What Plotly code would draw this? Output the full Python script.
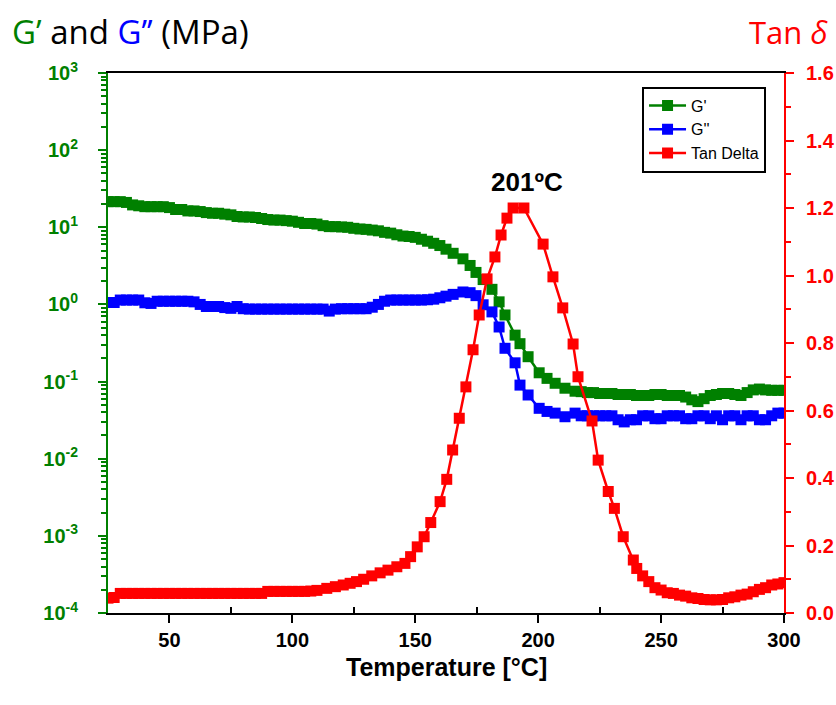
import plotly.graph_objects as go

# ---------------- data ----------------
g_temp = [25, 27.5, 30, 32.5, 35, 37.5, 40, 42.5, 45, 47.5,
          50, 52.5, 55, 57.5, 60, 62.5, 65, 67.5, 70, 72.5,
          75, 77.5, 80, 82.5, 85, 87.5, 90, 92.5, 95, 97.5,
          100, 102.5, 105, 107.5, 110, 112.5, 115, 117.5, 120, 122.5,
          125, 127.5, 130, 132.5, 135, 137.5, 140, 142.5, 145, 147.5,
          150, 152.5, 155, 157.5, 160, 162.5,
          165.4, 169.4, 172.3, 174.7, 177.6, 181.2, 184.1, 186.5, 190.6, 192.6,
          195.9, 200.4, 203.6, 206.9, 210.9, 215,
          217.5, 220, 222.5, 225, 227.5, 230, 232.5, 235, 237.5, 240,
          242.5, 245, 247.5, 250, 252.5, 255, 257.5, 260, 262.5, 265,
          267.5, 270, 272.5, 275, 277.5, 280, 282.5, 285, 287.5, 290,
          292.5, 295, 297.5, 300]

g_storage = [21.5, 21.5, 21.5, 21, 19.5, 19, 18.5, 18.5, 18.5, 18.5,
             18, 17, 17, 16.3, 16.3, 16, 15.5, 15.2, 15.2, 14.8,
             14.5, 13.8, 13.6, 13.6, 13.4, 13, 12.6, 12.4, 12.4, 12.2,
             12, 11.6, 11.2, 11.2, 11, 10.5, 10.2, 10.2, 10.1, 10,
             9.7, 9.5, 9.4, 9.2, 9, 8.6, 8.4, 8, 7.7, 7.6,
             7.4, 7, 6.6, 6.2, 5.8, 5.2,
             4.6, 3.9, 3.2, 2.6, 2.1, 1.57, 1.08, 0.73, 0.40, 0.31,
             0.21, 0.13, 0.11, 0.095, 0.082, 0.075,
             0.074, 0.072, 0.072, 0.07, 0.07, 0.07, 0.068, 0.068, 0.068, 0.066,
             0.066, 0.066, 0.068, 0.068, 0.066, 0.066, 0.066, 0.063, 0.058, 0.055,
             0.06, 0.066, 0.068, 0.07, 0.07, 0.068, 0.066, 0.072, 0.078, 0.08,
             0.078, 0.077, 0.077, 0.077]

g_loss = [1.06, 1.06, 1.14, 1.14, 1.14, 1.14, 1.05, 1.03, 1.1, 1.1,
          1.1, 1.1, 1.1, 1.1, 1.08, 1.0, 0.94, 0.94, 0.94, 0.91,
          0.89, 0.94, 0.88, 0.87, 0.87, 0.87, 0.87, 0.87, 0.87, 0.87,
          0.87, 0.87, 0.87, 0.87, 0.87, 0.87, 0.82, 0.87, 0.88, 0.88,
          0.88, 0.88, 0.88, 0.92, 1.0, 1.1, 1.14, 1.14, 1.14, 1.14,
          1.14, 1.14, 1.15, 1.17, 1.22, 1.28,
          1.35, 1.45, 1.42, 1.3, 0.99, 0.8, 0.51, 0.27, 0.175, 0.09,
          0.067, 0.045, 0.041, 0.039, 0.035, 0.039,
          0.036, 0.036, 0.036, 0.036, 0.036, 0.036, 0.032, 0.03, 0.032, 0.032,
          0.036, 0.036, 0.033, 0.033, 0.036, 0.036, 0.036, 0.033, 0.033, 0.036,
          0.036, 0.033, 0.036, 0.032, 0.036, 0.036, 0.032, 0.036, 0.036, 0.032,
          0.032, 0.036, 0.039, 0.039]

tan_temp = [25, 27.5, 30, 32.5, 35, 37.5, 40, 42.5, 45, 47.5,
            50, 52.5, 55, 57.5, 60, 62.5, 65, 67.5, 70, 72.5,
            75, 77.5, 80, 82.5, 85, 87.5, 90, 92.5, 95, 97.5,
            100, 102.5, 105, 107.5, 110, 114, 117.5, 120.7, 123.5, 126.1,
            129, 132.3, 135.7, 138.9, 142.5, 145.8, 148.1, 150.8, 153.6, 156.3,
            160.1, 162.8, 165.2, 167.9, 170.6, 173.5, 176, 179.2, 182.4, 184.9,
            187.3, 189.8, 194.2, 202, 206, 210, 214.2, 216.2, 221.9, 224.4,
            228.5, 231, 234.6, 238.7, 240.1, 242.5, 245, 247.5, 250, 252.5,
            255, 257.5, 260, 262.5, 265, 267.5, 270, 272.5, 275, 277.5,
            280, 282.5, 285, 287.5, 290, 292.5, 295, 297.5, 300]

tan_delta = [0.044, 0.046, 0.058, 0.058, 0.058, 0.058, 0.058, 0.058, 0.058, 0.058,
             0.058, 0.058, 0.058, 0.058, 0.058, 0.058, 0.058, 0.058, 0.058, 0.058,
             0.058, 0.058, 0.058, 0.058, 0.058, 0.058, 0.064, 0.064, 0.064, 0.064,
             0.064, 0.064, 0.064, 0.065, 0.067, 0.073, 0.078, 0.083, 0.088, 0.093,
             0.1, 0.11, 0.119, 0.127, 0.137, 0.147, 0.167, 0.196, 0.226, 0.268,
             0.33, 0.396, 0.483, 0.577, 0.67, 0.78, 0.883, 0.99, 1.055, 1.12,
             1.17, 1.2, 1.2, 1.093, 0.996, 0.904, 0.797, 0.70, 0.569, 0.453,
             0.36, 0.31, 0.226, 0.157, 0.132, 0.11, 0.093, 0.075, 0.068, 0.06,
             0.058, 0.053, 0.05, 0.045, 0.043, 0.04, 0.039, 0.039, 0.04, 0.045,
             0.048, 0.053, 0.056, 0.063, 0.07, 0.075, 0.083, 0.086, 0.09]

x_ticks = [50, 100, 150, 200, 250, 300]
x_minor_ticks = [75, 125, 175, 225, 275]
log_ticks = [1e-4, 1e-3, 1e-2, 1e-1, 1e0, 1e1, 1e2, 1e3]
log_tick_text = ["10<sup>-4</sup>", "10<sup>-3</sup>", "10<sup>-2</sup>", "10<sup>-1</sup>",
                 "10<sup>0</sup>", "10<sup>1</sup>", "10<sup>2</sup>", "10<sup>3</sup>"]
log_minor = [k * 10.0 ** e for e in range(-4, 3) for k in range(2, 10)]

GREEN = "#008000"
BLUE = "#0000FF"
RED = "#FF0000"

fig = go.Figure()
fig.add_trace(go.Scatter(x=g_temp, y=g_storage, mode="lines+markers", name="G'",
                         line=dict(color=GREEN, width=2.5),
                         marker=dict(symbol="square", size=11, color=GREEN)))
fig.add_trace(go.Scatter(x=g_temp, y=g_loss, mode="lines+markers", name="G''",
                         line=dict(color=BLUE, width=2.5),
                         marker=dict(symbol="square", size=11, color=BLUE)))
fig.add_trace(go.Scatter(x=tan_temp, y=tan_delta, mode="lines+markers", name="Tan Delta",
                         yaxis="y2",
                         line=dict(color=RED, width=2.5),
                         marker=dict(symbol="square", size=11, color=RED)))

tick_font = dict(family="Liberation Sans, Arial", size=20, weight="bold")

fig.update_layout(
    width=836, height=705,
    margin=dict(l=108, r=52, t=73, b=92, autoexpand=False),
    paper_bgcolor="white", plot_bgcolor="white",
    showlegend=True,
    legend=dict(x=0.79, y=0.975, xanchor="left", yanchor="top",
                bgcolor="white", bordercolor="black", borderwidth=2,
                font=dict(family="Liberation Sans, Arial", size=16, color="black"),
                tracegroupgap=0, itemwidth=37),
    xaxis=dict(range=[25, 300], tickmode="array", tickvals=x_ticks,
               ticks="outside", ticklen=8, tickwidth=2, tickcolor="black",
               ticklabelstandoff=0,
               showline=True, linecolor="black", linewidth=2, mirror=True,
               showgrid=False, zeroline=False,
               tickfont=dict(tick_font, color="black"),
               minor=dict(tickmode="array", tickvals=x_minor_ticks, ticks="inside",
                          ticklen=6, tickwidth=2, tickcolor="black", showgrid=False)),
    yaxis=dict(type="log", range=[-4, 3], tickmode="array", tickvals=log_ticks,
               ticktext=log_tick_text,
               ticks="outside", ticklen=8, tickwidth=2, tickcolor=GREEN,
               ticklabelstandoff=16,
               showline=True, linecolor=GREEN, linewidth=2,
               showgrid=False, zeroline=False,
               tickfont=dict(tick_font, color=GREEN),
               minor=dict(tickmode="array", tickvals=log_minor, ticks="outside",
                          ticklen=5, tickwidth=2, tickcolor=GREEN, showgrid=False)),
    yaxis2=dict(overlaying="y", side="right", range=[0, 1.6], tickmode="linear",
                tick0=0, dtick=0.2, tickformat=".1f",
                ticks="outside", ticklen=8, tickwidth=2, tickcolor=RED,
                ticklabelstandoff=8,
                showline=True, linecolor=RED, linewidth=2,
                showgrid=False, zeroline=False,
                tickfont=dict(tick_font, color=RED),
                minor=dict(tick0=0, dtick=0.1, ticks="outside", ticklen=5,
                           tickwidth=2, tickcolor=RED, showgrid=False)),
    annotations=[
        dict(text="<span style='color:#008000'>G’</span> and <span style='color:#0000FF'>G’’</span> (MPa)",
             xref="paper", yref="paper", x=-0.145, y=1.076, xanchor="left", yanchor="middle",
             showarrow=False, font=dict(family="Open Sans", size=33, color="black")),
        dict(text="Tan <i>δ</i>", xref="paper", yref="paper", x=1.068, y=1.076,
             xanchor="right", yanchor="middle", showarrow=False,
             font=dict(family="Open Sans", size=31, color=RED)),
        dict(text="<b>Temperature [°C]</b>", xref="paper", yref="paper", x=0.5, y=-0.1,
             xanchor="center", yanchor="middle", showarrow=False,
             font=dict(family="Liberation Sans, Arial", size=25, color="black")),
        dict(text="<b>201ºC</b>", xref="paper", yref="paper", x=0.62, y=0.798,
             xanchor="center", yanchor="middle", showarrow=False,
             font=dict(family="Liberation Sans, Arial", size=26, color="black")),
    ],
)

fig.write_html("out.html", config={"displayModeBar": False},
               post_script="document.body.style.margin='0';")
